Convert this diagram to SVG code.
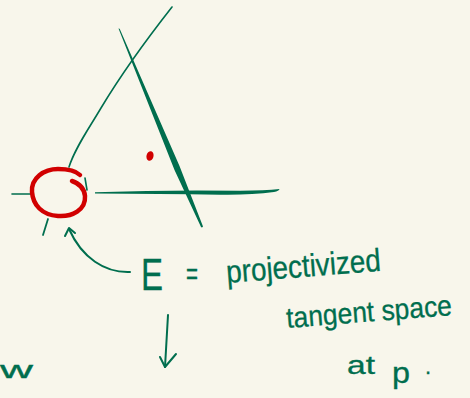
<svg xmlns="http://www.w3.org/2000/svg" width="470" height="398" viewBox="0 0 470 398">
<style>
.g{fill:none;stroke:#006e4e;stroke-linecap:round;stroke-linejoin:round}
.gf{fill:#006e4e;stroke:none}
.t{font-family:"Liberation Sans",Arial,sans-serif;fill:#006e4e;stroke:#006e4e;stroke-width:0.3}
</style>
<rect width="470" height="398" fill="#f8f6eb"/>
<g id="lines">
<path class="g" stroke-width="1.6" d="M172,7 C150,35 122,73 101,108 C88,130 75,148 69,167"/>
<path class="gf" d="M118.5,28.5 Q119.5,28 120,29.5 L179.5,166 L203,226.5 Q202,228 201,227 L174.5,170 Z"/>
<path class="gf" d="M95,192.3 Q170,189.6 240,190.8 Q265,190.4 279.5,189 Q279,191 274,192 Q250,195.2 220,194.7 Q160,194 95,193.6 Z"/>
<path class="g" stroke-width="1.6" d="M12,194 L32,194"/>
<path class="g" stroke-width="1.6" d="M85,178 L87,190"/>
<path class="g" stroke-width="1.8" d="M48,219 L43,235"/>
</g>
<g id="E-circle">
<path fill="none" stroke="#d10000" stroke-width="4.5" stroke-linecap="round" stroke-linejoin="round" d="M72,181 C78,183 84,187 85,196 C86,210 72,217 58,216 C42,215 33,205 32,192 C31,178 44,169 58,169 C68,169 76,171 80,175"/>
</g>
<g id="p-point">
<ellipse cx="150" cy="156" rx="3.5" ry="4.8" fill="#d10000" transform="rotate(15 150 156)"/>
</g>
<g id="connectors">
<path class="g" stroke-width="2" d="M130,272 C105,273 82,258 69,229"/>
<path class="g" stroke-width="2" d="M65,236 L69,228 L75,233"/>
<path class="g" stroke-width="2" d="M168,315 L165,367"/>
<path class="g" stroke-width="2" d="M160,357 L165,367 L176,354"/>
</g>
<g id="label">
<text class="t" x="141" y="290" font-size="45" textLength="22" lengthAdjust="spacingAndGlyphs">E</text>
<text class="t" x="186" y="284" font-size="30" textLength="12" lengthAdjust="spacingAndGlyphs">=</text>
<text class="t" x="227" y="283" font-size="32" textLength="155" lengthAdjust="spacingAndGlyphs" transform="rotate(-4.5 227 283)">projectivized</text>
<text class="t" x="287" y="328" font-size="29" textLength="166" lengthAdjust="spacingAndGlyphs" transform="rotate(-4.5 287 328)">tangent space</text>
<text class="t" x="347" y="374" font-size="26" textLength="28" lengthAdjust="spacingAndGlyphs">at</text>
<text class="t" x="392" y="383" font-size="30" textLength="18" lengthAdjust="spacingAndGlyphs">p</text>
<text class="t" x="425" y="374" font-size="22">.</text>
</g>
<g id="fragment">
<text class="t" x="0" y="378" font-size="24" textLength="33" lengthAdjust="spacingAndGlyphs">w</text>
</g>
</svg>
